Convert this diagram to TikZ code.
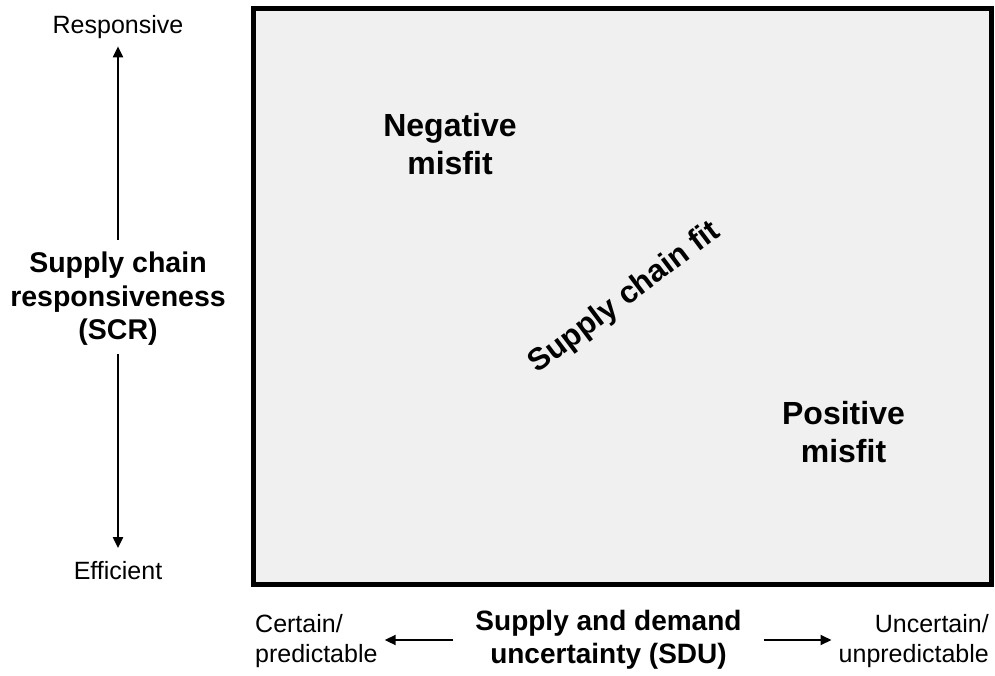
\documentclass[tikz,border=0pt]{standalone}
\usepackage{fontspec}
\setmainfont{Liberation Sans}
\usepackage{xcolor}
\usetikzlibrary{arrows.meta}
\definecolor{panelgray}{RGB}{240,240,240}

\begin{document}
\begin{tikzpicture}[x=1pt, y=-1pt,
        lbl/.style={inner sep=0pt, font=\fontsize{25}{30}\selectfont},
        axisname/.style={inner sep=0pt, align=center, font=\fontsize{28.5}{33.5}\selectfont\bfseries},
        zone/.style={inner sep=0pt, align=center, font=\fontsize{32}{38}\selectfont\bfseries},
        axis/.style={line width=2pt, -{Triangle[length=11pt, width=10pt]}}]
        \useasboundingbox (0, 0) rectangle (995, 675);

        \filldraw[line width=5pt, fill=panelgray] (253.5, 8.5) rectangle (991.5, 584.5);

        \node[zone] (neg) at (450, 144) {Negative\\misfit};
        \node[zone] (pos) at (843.5, 432.5) {Positive\\misfit};
        \node[inner sep=0pt, rotate=37, font=\fontsize{31}{36}\selectfont\bfseries] (fit) at (625, 298) {Supply chain fit};

        \node[lbl] (resp) at (118, 27.5) {Responsive};
        \node[lbl] (eff) at (118, 570.5) {Efficient};
        \node[axisname] (scr) at (118, 299) {Supply chain\\responsiveness\\(SCR)};
        \draw[axis, shorten <=12pt, shorten >=7pt] (scr) -- (resp);
        \draw[axis, shorten <=8pt, shorten >=13pt] (scr) -- (eff);

        \node[lbl, align=left, anchor=west] (certain) at (255, 641) {Certain/\\predictable};
        \node[lbl, align=right, anchor=east] (uncertain) at (989, 641) {Uncertain/\\unpredictable};
        \node[axisname, font=\fontsize{28}{33}\selectfont\bfseries] (sdu) at (608.5, 640) {Supply and demand\\uncertainty (SDU)};
        \draw[axis, shorten <=22pt, shorten >=7pt] (sdu.west) -- (sdu.west -| certain.east);
        \draw[axis, shorten <=22pt, shorten >=7pt] (sdu.east) -- (sdu.east -| uncertain.west);
\end{tikzpicture}
\end{document}
